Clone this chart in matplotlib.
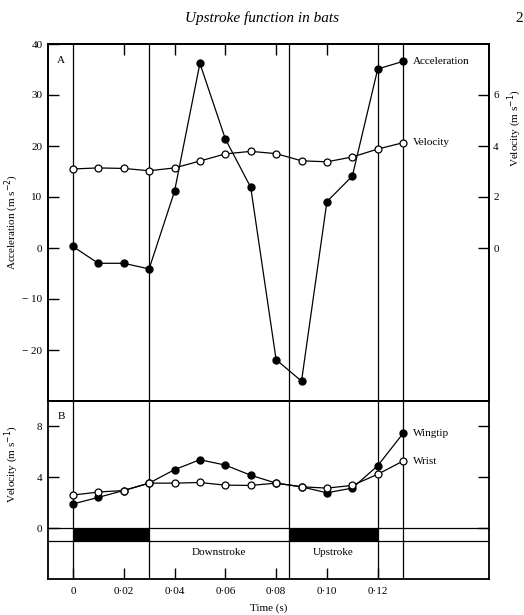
import matplotlib
matplotlib.use("Agg")
import matplotlib.pyplot as plt
from matplotlib.ticker import FuncFormatter

plt.rcParams["font.family"] = ["Liberation Serif", "DejaVu Serif"]
plt.rcParams["axes.unicode_minus"] = True

# sample times (s)
time = [0, 0.01, 0.02, 0.03, 0.04, 0.05, 0.06, 0.07, 0.08, 0.09, 0.10, 0.11, 0.12, 0.13]

# panel A
acceleration = [0.3, -3.0, -3.0, -4.1, 11.1, 36.2, 21.4, 11.9, -21.9, -26.1, 9.1, 14.1, 35.1, 36.6]
velocity = [3.10, 3.14, 3.12, 3.03, 3.14, 3.41, 3.69, 3.79, 3.70, 3.42, 3.38, 3.57, 3.88, 4.13]

# panel B
wingtip = [1.90, 2.42, 2.96, 3.54, 4.60, 5.38, 4.96, 4.16, 3.54, 3.25, 2.78, 3.15, 4.91, 7.46]
wrist = [2.60, 2.84, 2.96, 3.54, 3.54, 3.59, 3.38, 3.36, 3.54, 3.25, 3.15, 3.36, 4.24, 5.28]

# phase markers
phase_lines = [0, 0.03, 0.085, 0.12, 0.13]
black_bars = [(0, 0.03), (0.085, 0.12)]
phase_names = ["Downstroke", "Upstroke"]
phase_spans = [(0.03, 0.085), (0.085, 0.12)]

time_ticks = [0, 0.02, 0.04, 0.06, 0.08, 0.10, 0.12]
top_ticks = [0.02, 0.04, 0.06, 0.08, 0.10]


def time_fmt(v, pos):
    if abs(v) < 1e-9:
        return "0"
    return f"{v:.2f}".replace(".", "\u00b7")


def minus_fmt(v, pos):
    if v < 0:
        return f"\u2212 {abs(int(v))}"
    return f"{int(v)}"


fs = 8
lw = 0.9
xlim = (-0.0098, 0.1638)

fig = plt.figure(figsize=(5.24, 6.15), dpi=100)
W, H = 524, 615
L, R = 48 / W, 489 / W
axA = fig.add_axes([L, 1 - 401 / H, R - L, (401 - 44) / H])
axB = fig.add_axes([L, 1 - 579 / H, R - L, (579 - 401) / H])

for ax in (axA, axB):
    ax.set_xlim(*xlim)
    for s in ax.spines.values():
        s.set_linewidth(1.3)
    for t in phase_lines:
        ax.axvline(t, color="black", lw=lw, zorder=1)

# ---- panel A
axA.set_ylim(-30, 40)
axA.set_yticks([-20, -10, 0, 10, 20, 30, 40])
axA.yaxis.set_major_formatter(FuncFormatter(minus_fmt))
axA.set_xticks(top_ticks)
axA.tick_params(axis="x", direction="in", top=True, bottom=False,
                labeltop=False, labelbottom=False, length=8, width=1)
axA.tick_params(axis="y", direction="in", length=8, width=1, labelsize=fs, pad=4)
axA.plot(time, acceleration, color="black", lw=lw, marker="o", ms=5,
         mfc="black", mec="black", zorder=3)
axA.text(0.021, 0.967, "A", transform=axA.transAxes, fontsize=fs, va="top")

axV = axA.twinx()
axV.set_ylim(-6, 8)
axV.set_yticks([0, 2, 4, 6])
axV.tick_params(axis="y", direction="in", length=8, width=1, labelsize=fs, pad=3)
axV.plot(time, velocity, color="black", lw=lw, marker="o", ms=5,
         mfc="white", mec="black", mew=0.9, zorder=3)
for s in axV.spines.values():
    s.set_linewidth(1.3)

axA.annotate("Acceleration", (time[-1], acceleration[-1]), xytext=(7, 0),
             textcoords="offset points", fontsize=fs, va="center")
axV.annotate("Velocity", (time[-1], velocity[-1]), xytext=(7, 0),
             textcoords="offset points", fontsize=fs, va="center")

# ---- panel B
axB.set_ylim(-4, 10)
axB.set_yticks([0, 4, 8])
axB.set_xticks(time_ticks)
axB.xaxis.set_major_formatter(FuncFormatter(time_fmt))
axB.tick_params(axis="x", direction="in", length=8, width=1, labelsize=fs, pad=6)
axB.tick_params(axis="y", direction="in", right=True, length=8, width=1,
                labelsize=fs, pad=4)
axB.axhline(0, color="black", lw=lw, zorder=1)
axB.axhline(-1, color="black", lw=lw, zorder=1)
for a, b in black_bars:
    axB.fill_between([a, b], -1, 0, color="black", lw=0, zorder=2)
for name, (a, b) in zip(phase_names, phase_spans):
    axB.text((a + b) / 2, -1.95, name, fontsize=fs, ha="center", va="center")

axB.plot(time, wingtip, color="black", lw=lw, marker="o", ms=5,
         mfc="black", mec="black", zorder=3)
axB.plot(time, wrist, color="black", lw=lw, marker="o", ms=5,
         mfc="white", mec="black", mew=0.9, zorder=4)
axB.annotate("Wingtip", (time[-1], wingtip[-1]), xytext=(7, 0),
             textcoords="offset points", fontsize=fs, va="center")
axB.annotate("Wrist", (time[-1], wrist[-1]), xytext=(7, 0),
             textcoords="offset points", fontsize=fs, va="center")
axB.text(0.021, 0.94, "B", transform=axB.transAxes, fontsize=fs, va="top")
axB.set_xlabel("Time (s)", fontsize=fs, labelpad=5)

# axis titles placed in figure pixels
fig.text(12 / W, 1 - 222 / H, "Acceleration (m s$^{-2}$)", fontsize=fs,
         rotation=90, ha="center", va="center")
fig.text(515 / W, 1 - 128 / H, "Velocity (m s$^{-1}$)", fontsize=fs,
         rotation=90, ha="center", va="center")
fig.text(12 / W, 1 - 464 / H, "Velocity (m s$^{-1}$)", fontsize=fs,
         rotation=90, ha="center", va="center")

fig.text(0.5, 1 - 18 / H, "Upstroke function in bats", fontsize=11,
         style="italic", ha="center", va="center")
fig.text(1 - 1 / W, 1 - 18 / H, "2", fontsize=11, ha="right", va="center")

fig.savefig("out.png", dpi=100)
